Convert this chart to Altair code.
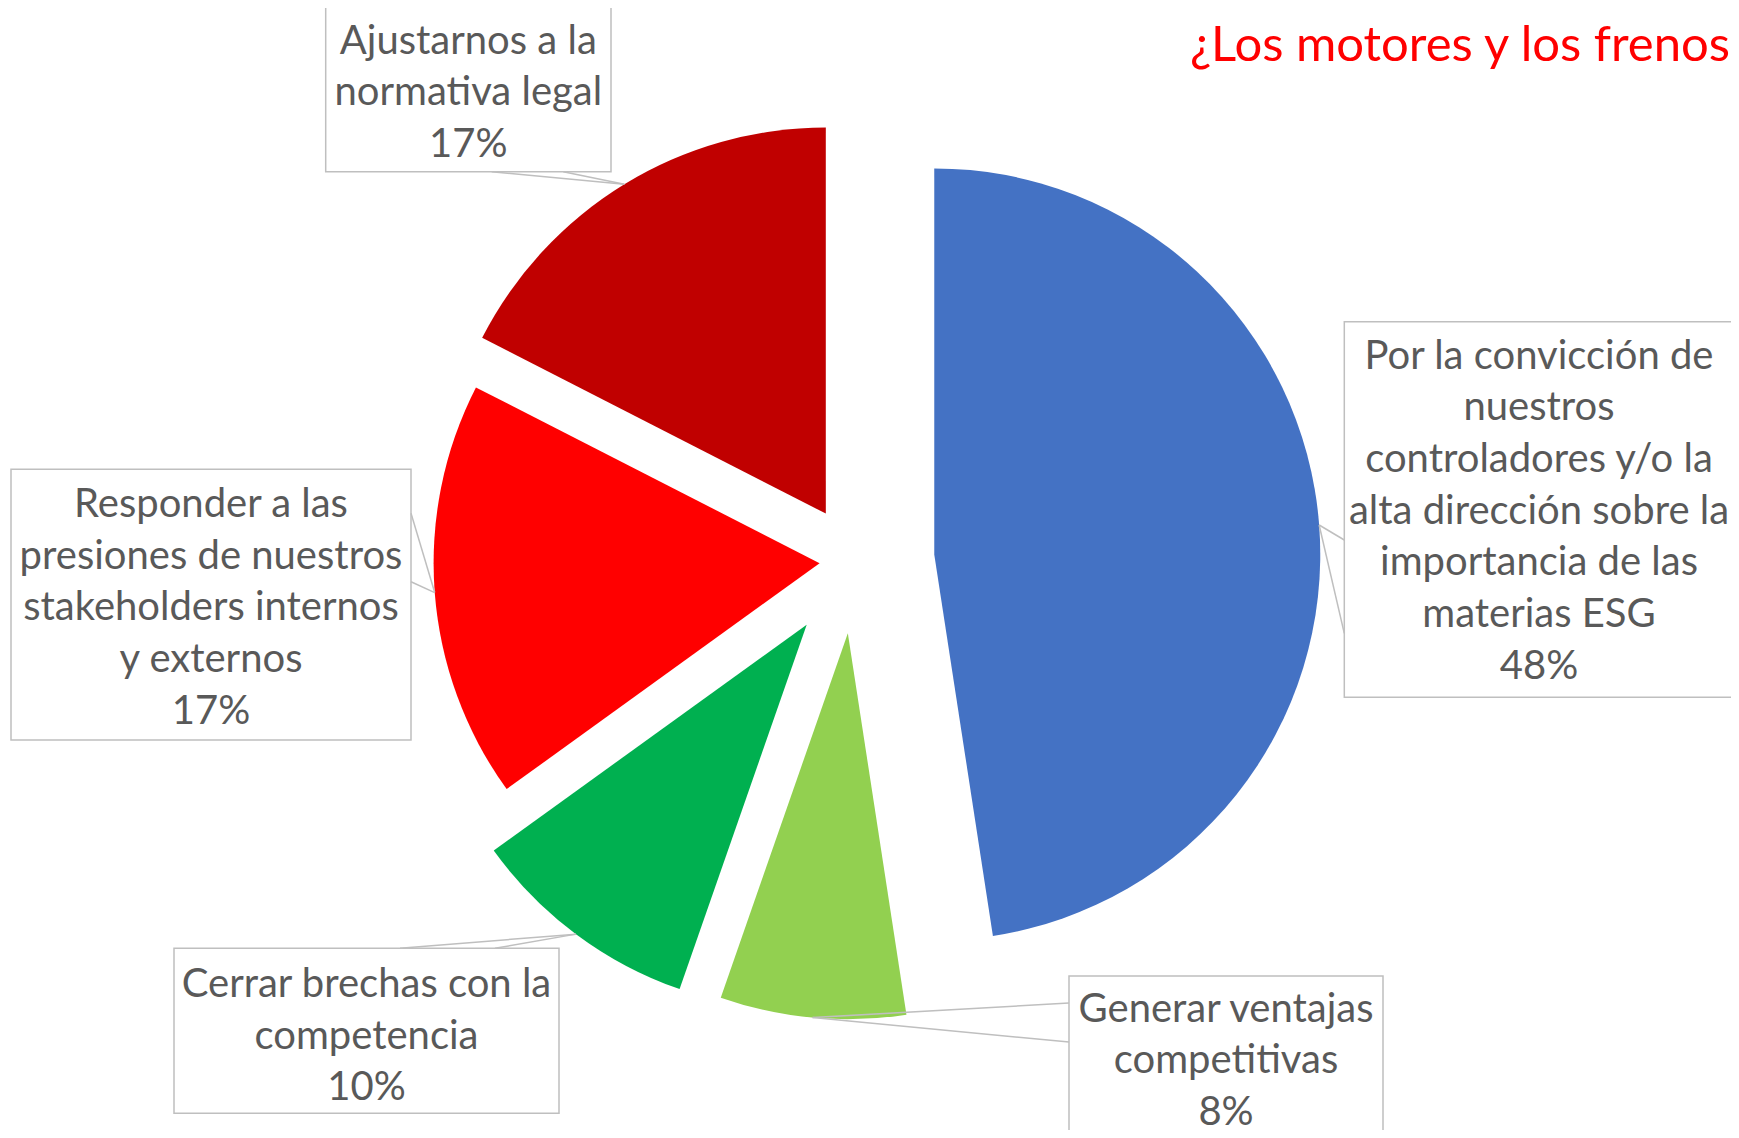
import altair as alt
import pandas as pd

# ---------------- data ----------------
categories = [
    "Por la convicción de nuestros controladores y/o la alta dirección sobre la importancia de las materias ESG",
    "Generar ventajas competitivas",
    "Cerrar brechas con la competencia",
    "Responder a las presiones de nuestros stakeholders internos y externos",
    "Ajustarnos a la normativa legal",
]
counts = [49, 8, 10, 18, 18]
colors = ["#4472C4", "#92D050", "#00B050", "#FF0000", "#C00000"]
label_lines = [
    ["Por la convicción de", "nuestros", "controladores y/o la", "alta dirección sobre la",
     "importancia de las", "materias ESG"],
    ["Generar ventajas", "competitivas"],
    ["Cerrar brechas con la", "competencia"],
    ["Responder a las", "presiones de nuestros", "stakeholders internos", "y externos"],
    ["Ajustarnos a la", "normativa legal"],
]
title_text = "¿Los motores y los frenos"

# ---------------- layout / style ----------------
W, H = 1723, 1122
OFF = 8
CX, CY, R = 854.5 - OFF, 560.5 - OFF, 386
explode = [80, 73, 80, 35, 55]
# box: x0, y0, x1, y1, text centre x, first line centre y, wedge base 1 (x, y), wedge base 2 (x, y)
boxes = [
    (1344.3, 321.7, 1742.3, 697.3, 1539.0, 355.0, 1344.3, 540.0, 1344.3, 633.3),
    (1069.0, 976.0, 1383.0, 1150.0, 1226.0, 1008.0, 1069.0, 1003.0, 1069.0, 1042.0),
    (174.0, 948.3, 559.0, 1113.3, 366.5, 983.3, 400.0, 948.3, 495.0, 948.3),
    (11.0, 469.3, 411.0, 740.0, 211.0, 503.3, 411.0, 513.3, 411.0, 581.7),
    (325.7, 5.7, 611.0, 171.7, 468.3, 40.0, 491.7, 171.7, 563.3, 171.7),
]
LINE_SP = 51.7
BASE_SHIFT = 13.5
FONT = "Lato"
TXT_COLOR = "#595959"
BOX_COLOR = "#BFBFBF"

total = sum(counts)
rows = []
text_rows = []
for i, (cat, c, e, b) in enumerate(zip(categories, counts, explode, boxes)):
    x0, y0, x1, y1, tcx, fy, b1x, b1y, b2x, b2y = b
    rows.append(dict(cat=cat, count=c, order=i, explode=e,
                     x0=x0 - OFF, y0=y0 - OFF, x1=x1 - OFF, y1=y1 - OFF,
                     b1x=b1x - OFF, b1y=b1y - OFF, b2x=b2x - OFF, b2y=b2y - OFF))
    lines = label_lines[i] + [f"{c / total:.0%}"]
    for j, t in enumerate(lines):
        text_rows.append(dict(text=t, x=tcx - OFF, y=fy - OFF + BASE_SHIFT + j * LINE_SP))

slices = pd.DataFrame(rows)
texts = pd.DataFrame(text_rows)

base = (
    alt.Chart(slices)
    .transform_joinaggregate(total="sum(count)")
    .transform_window(cum="sum(count)", sort=[alt.SortField("order")], frame=[None, 0])
    .transform_calculate(
        start="2*PI*(datum.cum-datum.count)/datum.total",
        end="2*PI*datum.cum/datum.total",
    )
    .transform_calculate(mid="(datum.start+datum.end)/2")
    .transform_calculate(
        px=f"{CX}+datum.explode*sin(datum.mid)",
        py=f"{CY}-datum.explode*cos(datum.mid)",
    )
    .transform_calculate(
        tx=f"datum.px+{R}*sin(datum.mid)",
        ty=f"datum.py-{R}*cos(datum.mid)",
    )
)

arcs = base.mark_arc(radius=R).encode(
    x=alt.X("px:Q", scale=None, axis=None),
    y=alt.Y("py:Q", scale=None, axis=None),
    theta=alt.Theta("start:Q", scale=None),
    theta2="end:Q",
    color=alt.Color("cat:N", scale=alt.Scale(domain=categories, range=colors), legend=None),
)

box_layer = base.mark_rect(fill="white", stroke=BOX_COLOR, strokeWidth=1.5).encode(
    x=alt.X("x0:Q", scale=None, axis=None), x2="x1:Q",
    y=alt.Y("y0:Q", scale=None, axis=None), y2="y1:Q",
)

wedge1 = base.mark_rule(color=BOX_COLOR, strokeWidth=1.5).encode(
    x=alt.X("b1x:Q", scale=None, axis=None), y=alt.Y("b1y:Q", scale=None, axis=None),
    x2="tx:Q", y2="ty:Q",
)
wedge2 = base.mark_rule(color=BOX_COLOR, strokeWidth=1.5).encode(
    x=alt.X("b2x:Q", scale=None, axis=None), y=alt.Y("b2y:Q", scale=None, axis=None),
    x2="tx:Q", y2="ty:Q",
)

text_layer = alt.Chart(texts).mark_text(
    font=FONT, fontSize=40, color=TXT_COLOR, align="center", baseline="alphabetic"
).encode(
    x=alt.X("x:Q", scale=None, axis=None),
    y=alt.Y("y:Q", scale=None, axis=None),
    text="text:N",
)

title_layer = alt.Chart(pd.DataFrame({"t": [title_text]})).mark_text(
    font=FONT, fontSize=49, color="#FF0000", align="left", baseline="alphabetic"
).encode(
    x=alt.value(1190 - OFF), y=alt.value(61 - OFF), text="t:N"
)

chart = (
    alt.layer(arcs, box_layer, wedge1, wedge2, text_layer, title_layer)
    .properties(width=W, height=H, padding=0, autosize=alt.AutoSizeParams(type="none"),
                background="white")
    .configure_view(stroke=None)
)

chart.save("out.html", embed_options={"renderer": "svg", "actions": False})
